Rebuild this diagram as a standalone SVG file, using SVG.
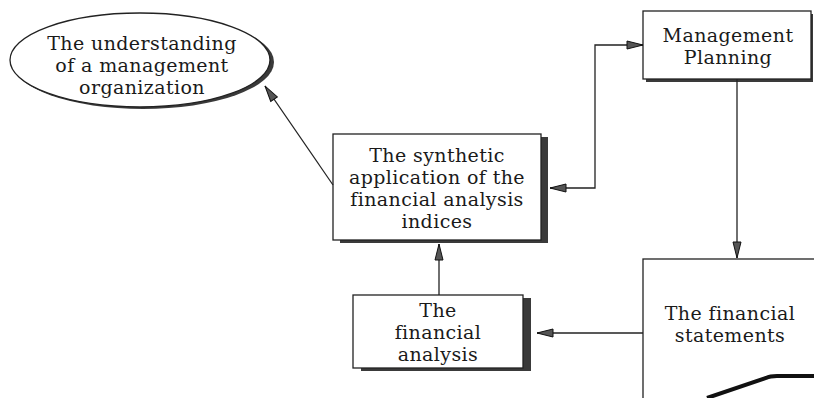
<svg xmlns="http://www.w3.org/2000/svg" width="814" height="398" viewBox="0 0 814 398">
<style>
.box{fill:#fff;stroke:#222;stroke-width:1.3}
.shadow{fill:#3a3a3a}
.t{font-family:"DejaVu Serif","Liberation Serif",serif;font-size:19px;letter-spacing:0.4px;fill:#1a1a1a;text-anchor:middle}
.c{fill:none;stroke:#222;stroke-width:1.3}
</style>
<defs>
<marker id="ah" markerUnits="userSpaceOnUse" markerWidth="18" markerHeight="12" refX="17" refY="5" orient="auto-start-reverse">
<path d="M1,1 L17,5 L1,9 Z" fill="#555" stroke="#111" stroke-width="1"/>
</marker>
</defs>
<rect width="814" height="398" fill="#fff"/>
<g id="understanding">
<ellipse cx="143" cy="62" rx="131" ry="47" class="shadow"/>
<ellipse cx="140" cy="60" rx="130" ry="47" class="box"/>
<text class="t" x="142" y="50">The understanding</text>
<text class="t" x="142" y="72">of a management</text>
<text class="t" x="142" y="94">organization</text>
</g>
<g id="synthetic">
<rect x="340" y="137" width="208" height="106" class="shadow"/>
<rect x="333" y="134" width="208" height="106" class="box"/>
<text class="t" x="437" y="162">The synthetic</text>
<text class="t" x="437" y="184">application of the</text>
<text class="t" x="437" y="206">financial analysis</text>
<text class="t" x="437" y="228">indices</text>
</g>
<g id="planning">
<rect x="646" y="14" width="167" height="68" class="shadow"/>
<rect x="643" y="11" width="168" height="68" class="box"/>
<text class="t" x="728" y="42">Management</text>
<text class="t" x="728" y="64">Planning</text>
</g>
<g id="analysis">
<rect x="361" y="298" width="170" height="73" class="shadow"/>
<rect x="353" y="295" width="170" height="73" class="box"/>
<text class="t" x="438" y="317">The</text>
<text class="t" x="438" y="339">financial</text>
<text class="t" x="438" y="361">analysis</text>
</g>
<g id="statements">
<rect x="643" y="259" width="180" height="150" class="box"/>
<text class="t" x="730" y="320">The financial</text>
<text class="t" x="730" y="342">statements</text>
<path d="M707,398 L766,378 Q770,376 777,376 L814,376" fill="none" stroke="#111" stroke-width="4"/>
</g>
<g id="connectors">
<line x1="333" y1="185" x2="265" y2="86" class="c" marker-end="url(#ah)"/>
<polyline points="643,45 595,45 595,188 550,188" class="c" marker-end="url(#ah)" marker-start="url(#ah)"/>
<line x1="737" y1="79" x2="737" y2="258" class="c" marker-end="url(#ah)"/>
<line x1="643" y1="333" x2="537" y2="333" class="c" marker-end="url(#ah)"/>
<line x1="439" y1="295" x2="439" y2="244" class="c" marker-end="url(#ah)"/>
</g>
</svg>
